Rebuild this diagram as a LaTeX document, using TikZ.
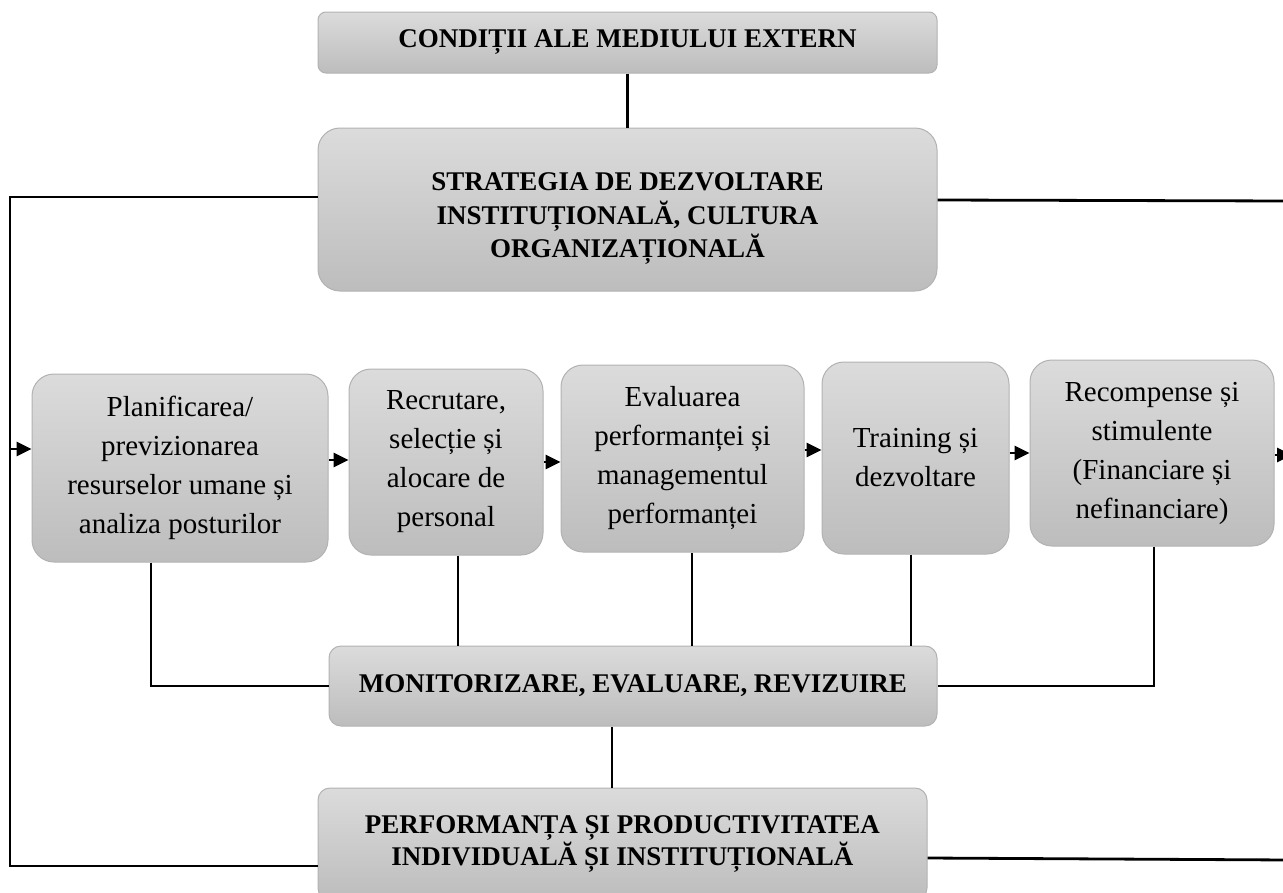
\documentclass[tikz,border=0pt]{standalone}
\usepackage{fontspec}
\setmainfont{Liberation Serif}
\usetikzlibrary{arrows.meta}
\begin{document}
\begin{tikzpicture}[x=1pt,y=-1pt,
  box/.style={draw=black!30,line width=1pt,rounded corners=22pt,top color=black!14,bottom color=black!26,
    align=center,inner sep=0pt,font=\fontsize{29}{39}\selectfont},
  head/.style={box,rounded corners=12pt,font=\fontsize{27}{33}\selectfont\bfseries},
  link/.style={line width=2.8pt},
  arr/.style={link,-{Triangle[length=15pt,width=14pt]}}]
\useasboundingbox (0,0) rectangle (1283,892);
\clip (0,0) rectangle (1283,892);
% top
\node[head,rounded corners=8pt,minimum width=619pt,minimum height=61pt] (ext) at (627.5,42.5) {CONDIȚII ALE MEDIULUI EXTERN};
\node[head,rounded corners=22pt,minimum width=619pt,minimum height=163pt] (strat) at (627.5,209.5)
  {\raisebox{-8pt}[\height][\depth]{\begin{tabular}{@{}c@{}}STRATEGIA DE DEZVOLTARE\\INSTITUȚIONALĂ, CULTURA\\ORGANIZAȚIONALĂ\end{tabular}}};
% process row
\node[box,minimum width=296pt,minimum height=188pt] (plan) at (180,468) {Planificarea/\\previzionarea\\resurselor umane și\\analiza posturilor};
\node[box,minimum width=194pt,minimum height=186pt] (recr) at (446,462) {Recrutare,\\selecție și\\alocare de\\personal};
\node[box,minimum width=243pt,minimum height=187pt] (eval) at (682.5,458.5) {Evaluarea\\performanței și\\managementul\\performanței};
\node[box,minimum width=187pt,minimum height=192pt] (train) at (915.5,458) {Training și\\dezvoltare};
\node[box,minimum width=244pt,minimum height=186pt] (recomp) at (1152,453) {Recompense și\\stimulente\\(Financiare și\\nefinanciare)};
% bottom
\node[head,minimum width=608pt,minimum height=80pt] (monit) at (633,686) {MONITORIZARE, EVALUARE, REVIZUIRE};
\node[head,font=\fontsize{27}{26}\selectfont\bfseries,minimum width=609pt,minimum height=112pt] (perf) at (622.5,844) {PERFORMANȚA ȘI PRODUCTIVITATEA\\INDIVIDUALĂ ȘI INSTITUȚIONALĂ};
% links
\draw[link] (ext) -- (strat);
\coordinate (inL) at (10,449);
\draw[link] (strat.west |- 0,197) -- (10,197) -- (10,866) -- (perf.west |- 0,866);
\draw[link] (strat.east |- 0,200) -- (1290,201);
\draw[link] (perf.east |- 0,858) -- (1290,860);
\draw[arr] (inL) -- (plan.west |- inL);
\draw[arr] (plan.east |- 0,460) -- (recr.west |- 0,460);
\draw[arr] (recr.east |- 0,462) -- (eval.west |- 0,462);
\draw[arr] (eval.east |- 0,450) -- (train.west |- 0,450);
\draw[arr] (train.east |- 0,453) -- (recomp.west |- 0,453);
\draw[arr] (recomp.east |- 0,455) -- (1292,455);
\draw[link] (plan.south -| 151,0) |- (monit.west);
\foreach \b/\x in {recr/458,eval/692,train/911} \draw[link] (\b.south -| \x,0) -- (monit.north -| \x,0);
\draw[link] (recomp.south -| 1154,0) |- (monit.east);
\draw[link] (monit.south -| 612,0) -- (perf.north -| 612,0);
\end{tikzpicture}
\end{document}
